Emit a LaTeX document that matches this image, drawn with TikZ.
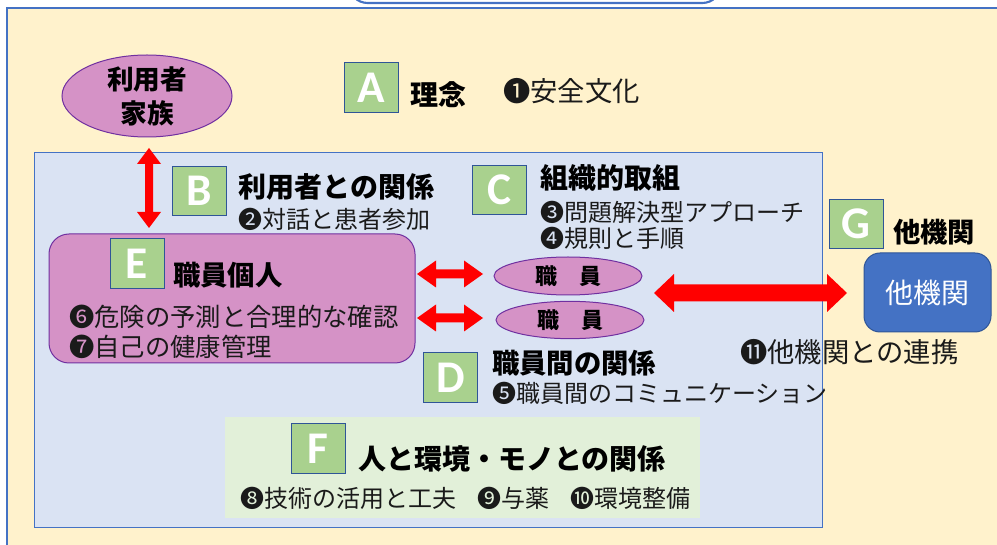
\documentclass[tikz,border=0pt]{standalone}
\usepackage{fontspec}
\setmainfont{Carlito}
\newfontfamily\jp{Noto Sans CJK JP}
\newfontfamily\lat{Carlito}
\usetikzlibrary{shapes.geometric}
\definecolor{bgyellow}{HTML}{FFF2CC}
\definecolor{bgblue}{HTML}{DAE3F3}
\definecolor{bgreen}{HTML}{E2F0D9}
\definecolor{lineblue}{HTML}{4472C4}
\definecolor{darkblue}{HTML}{2F5597}
\definecolor{pinkfill}{HTML}{D592C6}
\definecolor{purpleline}{HTML}{7030A0}
\definecolor{lgreen}{HTML}{A9D18E}
\definecolor{arrred}{HTML}{FF0000}
\definecolor{txt}{HTML}{1A1A1A}
\begin{document}
\begin{tikzpicture}[x=0.75pt,y=-0.75pt,
  letterbox/.style={draw=darkblue, fill=lgreen, line width=0.75pt, minimum width=40.5pt, minimum height=37pt, inner sep=0pt, text=white, font=\lat\bfseries\fontsize{34}{34}\selectfont},
  ttl/.style={anchor=west, inner sep=0pt, text=black, font=\jp\bfseries\fontsize{21}{21}\selectfont},
  ttlb/.style={anchor=west, inner sep=0pt, text=black, font=\jp\bfseries\fontsize{20.5}{20.5}\selectfont},
  bodyt/.style={anchor=west, inner sep=0pt, text=txt, font=\jp\fontsize{18}{18}\selectfont},
  bodyl/.style={anchor=west, inner sep=0pt, text=txt, font=\jp\fontsize{20.5}{20.5}\selectfont},
  pinkshape/.style={fill=pinkfill, draw=purpleline, line width=0.75pt},
  redarrow/.style={fill=arrred, draw=none}]
\useasboundingbox (0,0) rectangle (997,545);
\clip (0,0) rectangle (997,545);
% top cut-off shape
\draw[lineblue, line width=1.6pt, fill=white, rounded corners=14pt] (349,-40) rectangle (721,3);
% outer frame
\draw[lineblue, line width=1.1pt, fill=bgyellow] (7,8) rectangle (1010,560);
% inner blue area
\draw[lineblue, line width=0.75pt, fill=bgblue] (34,153) rectangle (822,527);
% F area
\fill[bgreen] (225,417) rectangle (700,518);

% family ellipse
\node[pinkshape, ellipse, minimum width=127.5pt, minimum height=61.5pt, inner sep=0pt] (fam) at (147,96) {};
\node[align=center, inner sep=0pt, font=\jp\bfseries\fontsize{20}{25.5}\selectfont] (famtext) at (fam.center) {利用者\\家族};

% A
\node[letterbox] (A) at (371.5,87.5) {A};
\node[ttl] (Atitle) at (410,95) {理念};
\node[bodyl] (Abody) at (503,91) {❶安全文化};

% B
\node[letterbox] (B) at (199,191) {B};
\node[ttl] (Btitle) at (238,187) {利用者との関係};
\node[bodyt] (Bbody) at (238,219) {❷対話と患者参加};

% C
\node[letterbox] (C) at (499,190) {C};
\node[ttl] (Ctitle) at (540,178) {組織的取組};
\node[bodyt] (Cbody1) at (540,212) {❸問題解決型アプローチ};
\node[bodyt] (Cbody2) at (540,238) {❹規則と手順};

% E
\node[pinkshape, rectangle, rounded corners=15pt, minimum width=274.5pt, minimum height=96.75pt, inner sep=0pt] (Erect) at (232,298.5) {};
\node[letterbox] (E) at (137,263.5) {E};
\node[ttlb] (Etitle) at (173,275) {職員個人};
\node[bodyt, font=\jp\fontsize{19}{19}\selectfont] (Ebody1) at (69,317) {❻危険の予測と合理的な確認};
\node[bodyt, font=\jp\fontsize{19}{19}\selectfont] (Ebody2) at (69,347) {❼自己の健康管理};

% staff ellipses
\node[pinkshape, ellipse, minimum width=111pt, minimum height=28.5pt, inner sep=0pt] (st1) at (568,276) {};
\node[inner sep=0pt, font=\jp\bfseries\fontsize{16.5}{16.5}\selectfont] at (st1.center) {職　員};
\node[pinkshape, ellipse, minimum width=111pt, minimum height=28pt, inner sep=0pt] (st2) at (570,320) {};
\node[inner sep=0pt, font=\jp\bfseries\fontsize{16.5}{16.5}\selectfont] at (st2.center) {職　員};

% D
\node[letterbox] (D) at (450.5,377.5) {D};
\node[ttlb] (Dtitle) at (492,363) {職員間の関係};
\node[bodyt] (Dbody) at (492,393) {❺職員間のコミュニケーション};

% F
\node[letterbox] (F) at (318,448.5) {F};
\node[ttl] (Ftitle) at (358,459) {人と環境・モノとの関係};
\node[bodyt] (Fb1) at (240,498) {❽技術の活用と工夫};
\node[bodyt] (Fb2) at (477,498) {❾与薬};
\node[bodyt] (Fb3) at (570,498) {❿環境整備};

% G
\node[letterbox] (G) at (856,224) {G};
\node[ttlb] (Gtitle) at (893,232) {他機関};
\node[draw=darkblue, fill=lineblue, line width=0.75pt, rounded corners=12pt, minimum width=95.25pt, minimum height=59.25pt, inner sep=0pt, text=white, font=\jp\fontsize{21}{21}\selectfont] (other) at (927.5,292.5) {他機関};
\node[bodyl] (Gbody) at (740,352) {⓫他機関との連携};

% red block arrows
% vertical: family <-> staff
\fill[redarrow] (149,148) -- (161,164) -- (153,164) -- (153,212) -- (161,212) -- (149,228) -- (137,212) -- (145,212) -- (145,164) -- (137,164) -- cycle;
% E <-> staff 1
\fill[redarrow] (417,274) -- (436,260.5) -- (436,269.5) -- (464,269.5) -- (464,260.5) -- (483,274) -- (464,287.5) -- (464,278.5) -- (436,278.5) -- (436,287.5) -- cycle;
% E <-> staff 2
\fill[redarrow] (417,318) -- (436,304.5) -- (436,313.5) -- (464,313.5) -- (464,304.5) -- (483,318) -- (464,331.5) -- (464,322.5) -- (436,322.5) -- (436,331.5) -- cycle;
% staff <-> other organisation
\fill[redarrow] (654,293) -- (674,274) -- (674,284.5) -- (827,284.5) -- (827,274) -- (847,293) -- (827,312) -- (827,301.5) -- (674,301.5) -- (674,312) -- cycle;
\end{tikzpicture}
\end{document}
